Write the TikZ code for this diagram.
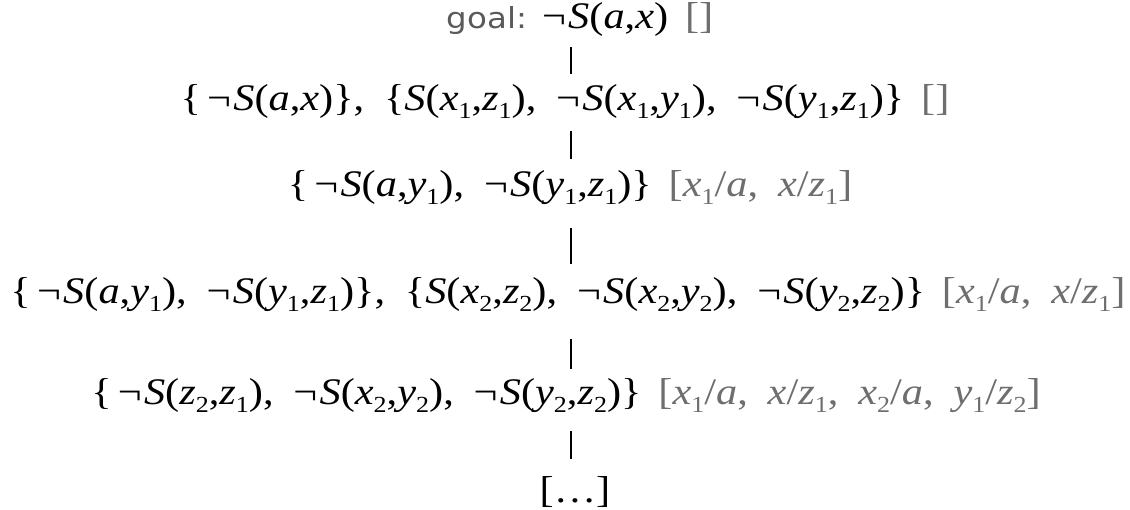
\documentclass[tikz,border=0pt]{standalone}
\usepackage{fontspec}
\setmainfont{Liberation Serif}[FakeStretch=1.13]
\newfontfamily\goalfont{DejaVu Sans}[FakeStretch=1.12]
\usepackage{tikz}
\usetikzlibrary{positioning}
\usepackage{xcolor}
\definecolor{SubstGray}{HTML}{6E6E6E}
\definecolor{GoalGray}{HTML}{5A5A5A}
\newcommand{\rowfont}{\fontsize{37.5}{44}\selectfont\spaceskip=0.53em\relax}
\newcommand{\va}[1]{\textit{#1}}
\newcommand{\vs}[2]{\textit{#1}\raisebox{-0.21em}{\fontsize{23}{23}\selectfont #2}}
\newcommand{\ngS}{¬\kern0.06em\va{S}}
\newcommand{\subst}[1]{\hspace{0.45em}{\color{SubstGray}#1}}

\begin{document}
\begin{tikzpicture}[x=1pt,y=1pt,every node/.style={font=\rowfont,inner sep=0pt,text height=28pt,text depth=9pt}]
    \useasboundingbox (0,0) rectangle (1130,-509);
    \coordinate (axis) at (571,0);
    \node[anchor=base] (goal) at (580,-28) {{\goalfont\fontsize{29}{33}\selectfont\color{GoalGray}goal:}\hspace{0.4em}\ngS(\va{a},\va{x})\subst{[]}};
    \node[below=45pt of goal,xshift=-15pt] (res1) {\{\,\ngS(\va{a},\va{x})\}, \{\va{S}(\vs{x}{1},\vs{z}{1}), \ngS(\vs{x}{1},\vs{y}{1}), \ngS(\vs{y}{1},\vs{z}{1})\}\subst{[]}};
    \node[below=49pt of res1,xshift=5pt] (res2) {\{\,\ngS(\va{a},\vs{y}{1}), \ngS(\vs{y}{1},\vs{z}{1})\}\subst{[\vs{x}{1}/\va{a}, \va{x}/\vs{z}{1}]}};
    \node[below=69pt of res2,xshift=-2pt] (res3) {\{\,\ngS(\va{a},\vs{y}{1}), \ngS(\vs{y}{1},\vs{z}{1})\}, \{\va{S}(\vs{x}{2},\vs{z}{2}), \ngS(\vs{x}{2},\vs{y}{2}), \ngS(\vs{y}{2},\vs{z}{2})\}\subst{[\vs{x}{1}/\va{a}, \va{x}/\vs{z}{1}]}};
    \node[below=64pt of res3,xshift=-2pt] (res4) {\{\,\ngS(\vs{z}{2},\vs{z}{1}), \ngS(\vs{x}{2},\vs{y}{2}), \ngS(\vs{y}{2},\vs{z}{2})\}\subst{[\vs{x}{1}/\va{a}, \va{x}/\vs{z}{1}, \vs{x}{2}/\va{a}, \vs{y}{1}/\vs{z}{2}]}};
    \node[below=60pt of res4,xshift=9pt] (more) {[\dots]};
    \foreach \x/\y/\a/\b in {goal/res1/10/8,res1/res2/11/10,res2/res3/22/11,res3/res4/27/7,res4/more/17/15}{\draw[line width=1.3pt,shorten <=\a pt,shorten >=\b pt] (\x.south -| axis) -- (\y.north -| axis);}
  \end{tikzpicture}
\end{document}
